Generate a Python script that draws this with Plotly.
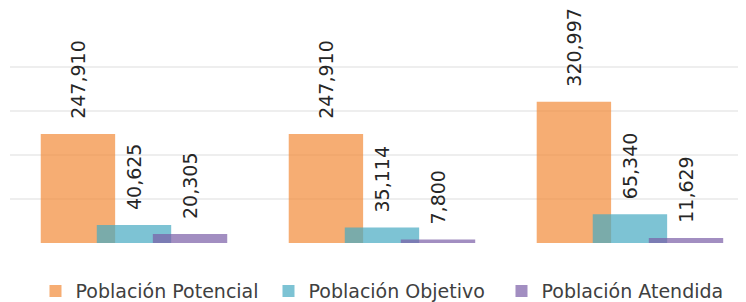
import plotly.graph_objects as go

categories = ["Año 1", "Año 2", "Año 3"]
series_names = ["Población Potencial", "Población Objetivo", "Población Atendida"]
potencial = [247910, 247910, 320997]
objetivo = [40625, 35114, 65340]
atendida = [20305, 7800, 11629]

colors = ["rgba(242,138,56,0.7)", "rgba(70,170,194,0.7)", "rgba(122,94,166,0.7)"]
offsets = [-0.376, -0.15, 0.076]
bar_width = 0.30

fig = go.Figure()
for name, vals, col, off in zip(series_names, [potencial, objetivo, atendida], colors, offsets):
    fig.add_trace(go.Bar(
        x=categories, y=vals, name=name,
        marker=dict(color=col, line=dict(width=0)),
        width=bar_width, offset=off,
        text=vals, texttemplate="\u00a0\u00a0%{y:,}",
        textposition="outside", textangle=-90,
        constraintext="none", cliponaxis=False,
        textfont=dict(family="DejaVu Sans", size=19, color="#262626"),
    ))

# The page body has an 8px default margin, so the figure is 8px smaller.
fig.update_layout(
    width=738, height=294,
    margin=dict(l=2, r=0, t=57, b=59, autoexpand=False),
    barmode="overlay",
    plot_bgcolor="white", paper_bgcolor="white",
    font=dict(family="DejaVu Sans", size=19, color="#404040"),
    xaxis=dict(range=[-0.5, 2.468], showticklabels=False, showgrid=False,
               zeroline=False, showline=False, ticks=""),
    yaxis=dict(range=[0, 404545], dtick=100000, showticklabels=False,
               showgrid=True, gridcolor="#EEEEEE", gridwidth=2,
               zeroline=False, showline=False, ticks=""),
    legend=dict(orientation="h", x=0.5095, xanchor="center", y=-0.27,
                yanchor="middle", entrywidth=188,
                font=dict(family="DejaVu Sans", size=19, color="#404040")),
    showlegend=True,
)

fig.write_html("out.html")
